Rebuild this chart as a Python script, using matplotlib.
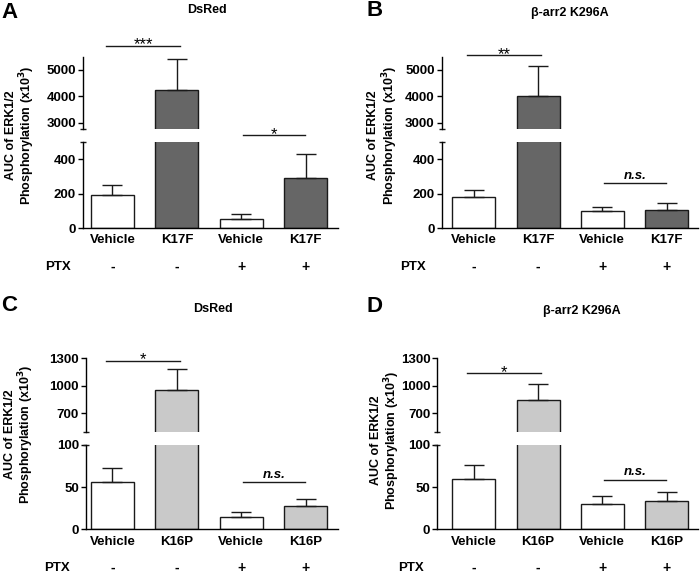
import numpy as np
import matplotlib
matplotlib.use("Agg")
import matplotlib.pyplot as plt

plt.rcParams['font.family'] = ['Liberation Sans', 'DejaVu Sans']
plt.rcParams['font.weight'] = 'bold'

## Data (AUC of ERK1/2 phosphorylation, x10^3)
groups_k17 = ['Vehicle', 'K17F', 'Vehicle', 'K17F']
groups_k16 = ['Vehicle', 'K16P', 'Vehicle', 'K16P']
ptx = ['-', '-', '+', '+']

a_mean = [195, 4250, 55, 290]
a_sem = [53, 1150, 25, 140]
b_mean = [180, 4020, 97, 107]
b_sem = [43, 1140, 27, 41]
c_mean = [56, 955, 15, 27]
c_sem = [16, 227, 6, 9]
d_mean = [59, 847, 29.5, 33]
d_sem = [17, 171, 9.5, 11]

a_sig = ['***', '*']
b_sig = ['**', 'n.s.']
c_sig = ['*', 'n.s.']
d_sig = ['*', 'n.s.']

dark = '#666666'
light = '#c9c9c9'
ink = '#1a1a1a'

W, H = 700, 574
fig = plt.figure(figsize=(7, 5.74), dpi=100)


def px_axes(l, r, t, b):
    return fig.add_axes([l / W, 1 - b / H, (r - l) / W, (b - t) / H])


def panel(letter, title, labels, mean, sem, sig, color,
          left, right, yt, xlim, lo_lim, hi_lim, lo_ticks, hi_ticks,
          sig_y, title_xy, letter_xy, ylab_xy, ptx_x):
    ax_hi = px_axes(left, right, yt[0], yt[1])
    ax_lo = px_axes(left, right, yt[2], yt[3])
    x = np.arange(len(mean))
    colors = ['white', color, 'white', color]
    for ax in (ax_hi, ax_lo):
        ax.bar(x, mean, width=0.67, color=colors, edgecolor=ink, linewidth=1.0, zorder=2)
        ax.errorbar(x, mean, yerr=[np.zeros(len(sem)), sem], fmt='none',
                    ecolor=ink, elinewidth=1.0, capsize=7.5, capthick=1.0, zorder=3)
        ax.set_xlim(*xlim)
        for s in ('top', 'right'):
            ax.spines[s].set_visible(False)
        ax.spines['left'].set_linewidth(1.0)
        ax.spines['bottom'].set_linewidth(1.0)
        ax.tick_params(axis='y', length=3.5, width=1.0, pad=1.5, labelsize=9.5)
        for t in ax.get_yticklabels():
            t.set_fontweight('bold')
    ax_hi.set_ylim(*hi_lim)
    ax_lo.set_ylim(*lo_lim)
    ax_hi.set_yticks(hi_ticks)
    ax_lo.set_yticks(lo_ticks)
    ax_hi.spines['bottom'].set_visible(False)
    ax_hi.set_xticks([])
    ax_lo.set_xticks(x)
    ax_lo.set_xticklabels(labels, fontsize=9.5, fontweight='bold')
    ax_lo.tick_params(axis='x', length=0, pad=4.5)

    # break caps on the y axis
    ax_hi.plot([0], [0], marker='_', ms=5, mew=1.0, color=ink,
               transform=ax_hi.transAxes, clip_on=False)
    ax_lo.plot([0], [1], marker='_', ms=5, mew=1.0, color=ink,
               transform=ax_lo.transAxes, clip_on=False)

    # significance bars
    spans = [(-0.1, 1.05), (2.03, 2.99)]
    targets = [ax_hi, ax_lo]
    for (x1, x2), lab, y, ax in zip(spans, sig, sig_y, targets):
        ax.plot([x1, x2], [y, y], color=ink, lw=1.0, clip_on=False)
        if lab == 'n.s.':
            ax.annotate(lab, xy=((x1 + x2) / 2, y), xytext=(0, 3), textcoords='offset points',
                        ha='center', va='baseline', fontsize=9.5, fontstyle='italic',
                        fontweight='bold', annotation_clip=False)
        else:
            ax.annotate(lab, xy=((x1 + x2) / 2, y), xytext=(0, -2.5), textcoords='offset points',
                        ha='center', va='baseline', fontsize=12, fontweight='normal',
                        annotation_clip=False)

    # PTX row
    for i, s in enumerate(ptx):
        ax_lo.annotate(s, xy=(i, 0), xycoords=('data', 'axes fraction'), xytext=(0, -28),
                       textcoords='offset points', ha='center', va='center',
                       fontsize=10, fontweight='bold', annotation_clip=False)
    ax_lo.annotate('PTX', xy=(ptx_x, 0), xycoords=('data', 'axes fraction'), xytext=(0, -28),
                   textcoords='offset points', ha='center', va='center',
                   fontsize=9.5, fontweight='bold', annotation_clip=False)

    fig.text(title_xy[0] / W, 1 - title_xy[1] / H, title, ha='center', va='center',
             fontsize=9, fontweight='bold')
    fig.text(letter_xy[0] / W, 1 - letter_xy[1] / H, letter, ha='center', va='center',
             fontsize=16, fontweight='bold')
    fig.text(ylab_xy[0] / W, 1 - ylab_xy[1] / H,
             'AUC of ERK1/2\nPhosphorylation (x10$\\mathbf{^3}$)',
             rotation=90, ha='center', va='center', multialignment='center',
             fontsize=9, fontweight='bold', linespacing=1.05)


panel('A', 'DsRed', groups_k17, a_mean, a_sem, a_sig, dark,
      83, 338, (56.7, 129.3, 142.3, 228), (-0.457, 3.5),
      (0, 500), (2750, 5500), [0, 200, 400], [3000, 4000, 5000],
      (5900, 540), (207, 10), (10, 12), (21, 135), -0.845)
panel('B', '\u03b2-arr2 K296A', groups_k17, b_mean, b_sem, b_sig, dark,
      441.7, 698, (56.7, 129.3, 142.3, 228), (-0.5, 3.49),
      (0, 500), (2750, 5500), [0, 200, 400], [3000, 4000, 5000],
      (5550, 262), (570, 13), (375, 10), (383.5, 135), -0.94)
panel('C', 'DsRed', groups_k16, c_mean, c_sem, c_sig, light,
      86, 338, (358.3, 431.7, 444.7, 529.3), (-0.41, 3.5),
      (0, 100), (500, 1300), [0, 50, 100], [700, 1000, 1300],
      (1271, 55.6), (213, 309), (9.5, 306), (20, 434), -0.856)
panel('D', '\u03b2-arr2 K296A', groups_k16, d_mean, d_sem, d_sig, light,
      437.3, 698, (358.3, 431.7, 444.7, 529.3), (-0.57, 3.49),
      (0, 100), (500, 1300), [0, 50, 100], [700, 1000, 1300],
      (1136, 58.7), (582, 311), (375, 306.5), (386, 440), -0.975)

fig.savefig('out.png', dpi=100)
